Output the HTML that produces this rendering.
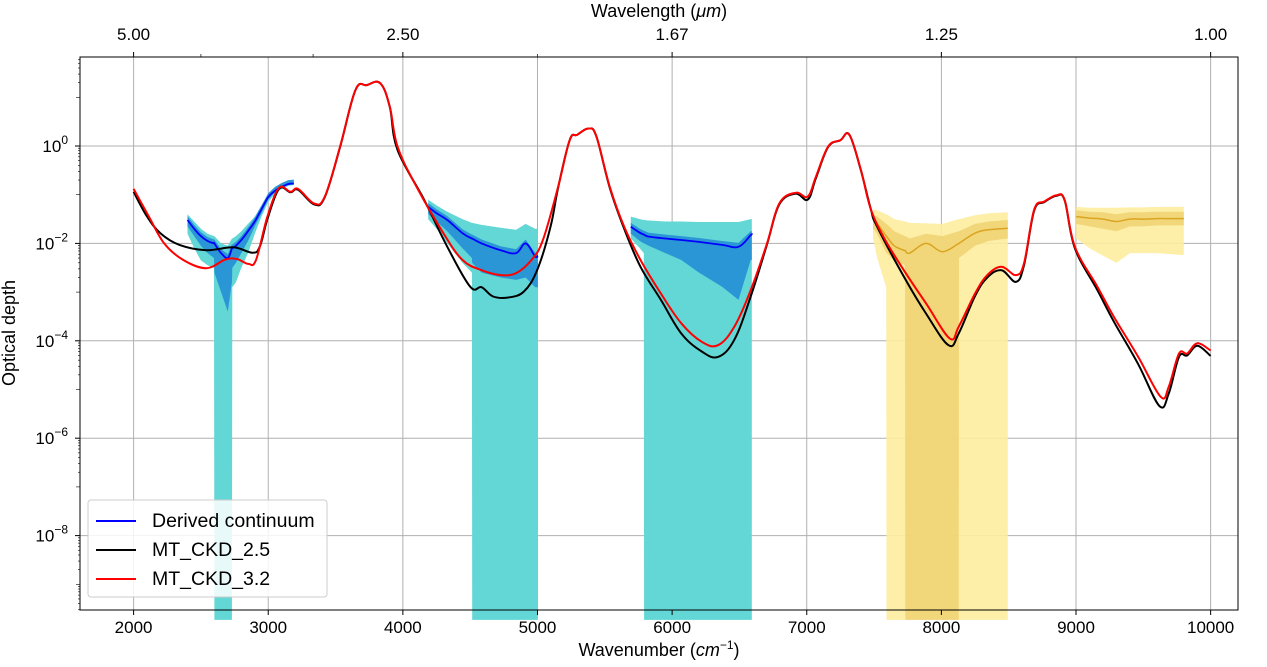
<!DOCTYPE html>
<html><head><meta charset="utf-8"><style>
body{margin:0;background:#fff;}
svg text{font-family:"Liberation Sans","DejaVu Sans",sans-serif;fill:#000;}
</style></head><body>
<svg id="chart" width="1267" height="662" xmlns="http://www.w3.org/2000/svg">
<g id="grid"></g>
<g id="bands"></g>
<g id="lines"></g>
<rect x="80" y="57" width="1158" height="553" fill="none" stroke="#000" stroke-width="1"/>
<g id="axes"></g>
<text x="659" y="656" font-size="18" text-anchor="middle">Wavenumber (<tspan font-style="italic">cm</tspan><tspan font-size="12" dy="-7">−1</tspan><tspan dy="7">)</tspan></text>
<text x="659" y="17" font-size="18" text-anchor="middle">Wavelength (<tspan font-style="italic">μm</tspan>)</text>
<text transform="translate(15,333) rotate(-90)" font-size="18" text-anchor="middle">Optical depth</text>
<g>
<rect x="88" y="500" width="239" height="97" rx="3" fill="#fff" fill-opacity="0.85" stroke="#ccc"/>
<line x1="96" y1="521" x2="136" y2="521" stroke="#0000ff" stroke-width="2"/>
<text x="152" y="527" font-size="19.5">Derived continuum</text>
<line x1="96" y1="550" x2="136" y2="550" stroke="#000" stroke-width="2"/>
<text x="152" y="556" font-size="19.5">MT_CKD_2.5</text>
<line x1="96" y1="579" x2="136" y2="579" stroke="#ff0000" stroke-width="2"/>
<text x="152" y="585" font-size="19.5">MT_CKD_3.2</text>
</g>
</svg>
<script>
// ---- data (log10 optical depth) ----
const redWn=[2000,2114,2227,2369,2540,2682,2767,2852,2909,2994,3080,3165,3222,3341,3420,3534,3648,3733,3832,3903,3960,4102,4301,4443,4585,4727,4841,4955,5040,5153,5239,5295,5381,5438,5537,5644,5765,5917,6068,6220,6341,6462,6584,6705,6796,6917,7008,7068,7159,7250,7317,7402,7477,7583,7735,7886,8062,8129,8250,8341,8447,8553,8614,8689,8765,8856,8916,8992,9159,9280,9462,9629,9689,9765,9826,9901,10000];
const redLog=[-0.88,-1.45,-2.0,-2.34,-2.51,-2.33,-2.32,-2.42,-2.34,-1.45,-0.86,-0.94,-0.88,-1.18,-1.04,-0.01,1.15,1.25,1.29,0.81,-0.01,-0.84,-1.79,-2.34,-2.55,-2.65,-2.61,-2.34,-1.93,-0.84,0.12,0.23,0.36,0.19,-0.84,-1.66,-2.34,-3.03,-3.64,-4.02,-4.09,-3.71,-2.96,-2.0,-1.18,-0.96,-1.04,-0.63,-0.01,0.12,0.23,-0.49,-1.31,-1.93,-2.61,-3.23,-3.95,-3.71,-3.03,-2.65,-2.48,-2.65,-2.41,-1.31,-1.14,-1.01,-1.11,-2.07,-2.89,-3.5,-4.33,-5.15,-4.94,-4.26,-4.26,-4.05,-4.2];
const blackWn=[2000,2100,2199,2341,2540,2739,2881,2937,2994,3080,3165,3222,3341,3420,3534,3648,3733,3832,3903,3960,4159,4330,4500,4585,4670,4784,4898,4997,5097,5153,5239,5295,5381,5438,5537,5644,5765,5917,6068,6220,6341,6462,6584,6705,6796,6917,7008,7068,7159,7250,7317,7402,7477,7523,7735,7886,8053,8129,8250,8341,8447,8553,8614,8689,8765,8856,8916,8992,9159,9280,9462,9620,9689,9765,9826,9901,10000];
const blackLog=[-0.94,-1.45,-1.79,-2.03,-2.14,-2.08,-2.19,-2.07,-1.5,-0.88,-0.95,-0.9,-1.2,-1.05,-0.02,1.15,1.25,1.29,0.8,-0.08,-1.11,-2.07,-2.89,-2.9,-3.09,-3.11,-2.99,-2.55,-1.66,-0.86,0.12,0.23,0.36,0.19,-0.86,-1.7,-2.48,-3.16,-3.85,-4.22,-4.33,-3.98,-3.09,-2.02,-1.2,-0.98,-1.1,-0.66,-0.02,0.12,0.23,-0.5,-1.31,-1.66,-2.75,-3.44,-4.09,-3.85,-3.08,-2.7,-2.55,-2.79,-2.45,-1.33,-1.15,-1.02,-1.12,-2.1,-2.96,-3.6,-4.48,-5.34,-5.08,-4.33,-4.3,-4.1,-4.31];
// derived continuum bands
const b1Wn=[2400,2450,2500,2550,2597,2600,2650,2700,2730,2733,2760,2800,2850,2900,2950,3000,3050,3100,3150,3190];
const b1Mid=[-1.52,-1.7,-1.85,-1.95,-2.0,-2.0,-2.2,-2.3,-2.1,-2.1,-2.05,-1.93,-1.75,-1.55,-1.3,-1.05,-0.92,-0.84,-0.78,-0.77];
const b1LightHi=[-1.4,-1.55,-1.7,-1.8,-1.85,-1.85,-2.0,-2.05,-1.9,-1.9,-1.85,-1.75,-1.6,-1.45,-1.22,-0.99,-0.87,-0.8,-0.75,-0.74];
const b1LightLo=[-1.8,-2.1,-2.35,-2.45,-2.5,-10,-10,-10,-10,-2.9,-2.8,-2.5,-2.2,-1.8,-1.45,-1.15,-0.98,-0.88,-0.82,-0.8];
const b1DarkLo=[-1.65,-1.85,-2.05,-2.2,-2.3,-2.6,-3.0,-3.4,-2.8,-2.5,-2.4,-2.2,-1.95,-1.65,-1.38,-1.1,-0.95,-0.86,-0.8,-0.79];
const b2Wn=[4188,4250,4330,4443,4513,4515,4585,4727,4841,4912,4983,5003];
const b2Mid=[-1.25,-1.38,-1.52,-1.79,-1.9,-1.9,-2.0,-2.14,-2.2,-2.0,-2.27,-2.25];
const b2LightHi=[-1.1,-1.22,-1.35,-1.5,-1.58,-1.58,-1.62,-1.68,-1.72,-1.6,-1.7,-1.7];
const b2LightLo=[-1.5,-1.7,-2.0,-2.4,-2.6,-10,-10,-10,-10,-10,-10,-10];
const b2DarkLo=[-1.4,-1.55,-1.75,-2.1,-2.3,-2.4,-2.6,-2.7,-2.75,-2.7,-2.9,-2.9];
const b3Wn=[5693,5760,5790,5792,5826,5950,6068,6200,6371,6493,6584,6592];
const b3Mid=[-1.66,-1.78,-1.82,-1.82,-1.86,-1.9,-1.93,-1.97,-2.03,-2.07,-1.83,-1.83];
const b3LightHi=[-1.45,-1.5,-1.52,-1.52,-1.53,-1.55,-1.55,-1.56,-1.56,-1.56,-1.5,-1.5];
const b3LightLo=[-1.9,-2.1,-2.2,-10,-10,-10,-10,-10,-10,-10,-10,-10];
const b3DarkLo=[-1.8,-1.95,-2.0,-2.0,-2.05,-2.2,-2.34,-2.6,-2.89,-3.16,-2.34,-2.34];
// yellow bands (other data)
const y1Wn=[7492,7523,7590,7592,7650,7730,7732,7765,7886,8008,8129,8131,8250,8350,8493];
const y1Mid=[-1.5,-1.59,-1.85,-1.85,-2.05,-2.15,-2.15,-2.2,-2.0,-2.17,-2.0,-2.0,-1.79,-1.72,-1.69];
const y1LightHi=[-1.3,-1.32,-1.4,-1.4,-1.5,-1.55,-1.55,-1.58,-1.59,-1.6,-1.5,-1.5,-1.42,-1.38,-1.36];
const y1LightLo=[-1.9,-2.3,-2.9,-10,-10,-10,-10,-10,-10,-10,-10,-10,-10,-10,-10];
const y1DarkHi=[-1.4,-1.45,-1.6,-1.6,-1.75,-1.85,-1.85,-1.9,-1.8,-1.85,-1.75,-1.75,-1.6,-1.55,-1.52];
const y1DarkLo=[-1.7,-1.8,-2.2,-2.2,-2.35,-2.45,-10,-10,-10,-10,-10,-2.3,-2.05,-1.95,-1.9];
const y2Wn=[9001,9100,9200,9300,9400,9500,9600,9700,9801];
const y2Mid=[-1.45,-1.48,-1.5,-1.55,-1.5,-1.5,-1.49,-1.49,-1.49];
const y2LightHi=[-1.25,-1.27,-1.27,-1.27,-1.26,-1.26,-1.25,-1.25,-1.25];
const y2LightLo=[-1.9,-2.1,-2.25,-2.4,-2.2,-2.2,-2.2,-2.22,-2.24];
const y2DarkHi=[-1.32,-1.35,-1.36,-1.4,-1.36,-1.36,-1.35,-1.35,-1.35];
const y2DarkLo=[-1.6,-1.65,-1.7,-1.75,-1.65,-1.65,-1.63,-1.63,-1.63];
// ticks
const xTicks=[2000,3000,4000,5000,6000,7000,8000,9000,10000];
const yTicks=[0,-2,-4,-6,-8];
const topLabels=["5.00","2.50","1.67","1.25","1.00"];
const topMajorWl=[5.0,2.5,1.6667,1.25,1.0];
const topMinorWl=[4,3,2];
// ---- axis functions ----
const LOGMIN=-9.53, LOGMAX=1.83;
function X(w){return 133.6+(w-2000)*0.13463;}
function Y(l){l=Math.max(LOGMIN-0.2,l);return 146-l*48.7;}
const NS="http://www.w3.org/2000/svg";
function mk(tag,attrs,parent){const e=document.createElementNS(NS,tag);for(const k in attrs)e.setAttribute(k,attrs[k]);parent.appendChild(e);return e;}
const grid=document.getElementById('grid'),axes=document.getElementById('axes'),bands=document.getElementById('bands'),lines=document.getElementById('lines');
xTicks.forEach(t=>{
 const g=mk('line',{x1:X(t),x2:X(t),y1:57,y2:610,stroke:'#b0b0b0','stroke-width':1},grid);
 
 
 const tk=mk('line',{x1:X(t),x2:X(t),y1:610,y2:615,stroke:'#000'},axes);
 
 
 const tx=mk('text',{x:X(t),y:633,'font-size':17,'text-anchor':'middle'},axes);
 tx.textContent=t;
 
 
});
yTicks.forEach(t=>{
 const g=mk('line',{x1:80,x2:1238,y1:Y(t),y2:Y(t),stroke:'#b0b0b0','stroke-width':1},grid);
 
 
 const tk=mk('line',{x1:75,x2:80,y1:Y(t),y2:Y(t),stroke:'#000'},axes);
 
 
 const tx=mk('text',{x:68,y:Y(t)+6,'font-size':17,'text-anchor':'end'},axes);
 
 
 tx.innerHTML='10<tspan font-size="12" dy="-8">'+(t<0?'−'+(-t):t)+'</tspan>';
});
for(let d=-10;d<=1;d++){ if(yTicks.includes(d))continue;
 for(let m=1;m<10;m++){const l=d+Math.log10(m);if(l<LOGMIN||l>LOGMAX)continue;
  const mt=mk('line',{x1:m==1?76:78,x2:80,y1:Y(l),y2:Y(l),stroke:'#000','stroke-width':0.6},axes);
  
  }}
topMajorWl.forEach((wl,i)=>{const w=10000/wl;
 const tk=mk('line',{x1:X(w),x2:X(w),y1:52,y2:57,stroke:'#000'},axes);
 
 
 const tx=mk('text',{x:X(w),y:40,'font-size':17,'text-anchor':'middle'},axes);
 tx.textContent=topLabels[i];
 
 
});
topMinorWl.forEach(wl=>{const w=10000/wl;
 const tk=mk('line',{x1:X(w),x2:X(w),y1:54,y2:57,stroke:'#000','stroke-width':0.7},axes);
 
 
});
// smooth path through points (Catmull-Rom)
function smooth(pts){
 let d='M'+pts[0][0].toFixed(1)+','+pts[0][1].toFixed(1);
 for(let i=0;i<pts.length-1;i++){
  const p0=pts[Math.max(0,i-1)],p1=pts[i],p2=pts[i+1],p3=pts[Math.min(pts.length-1,i+2)];
  const t=0.18;
  const c1=[p1[0]+(p2[0]-p0[0])*t,p1[1]+(p2[1]-p0[1])*t];
  const c2=[p2[0]-(p3[0]-p1[0])*t,p2[1]-(p3[1]-p1[1])*t];
  d+='C'+c1[0].toFixed(1)+','+c1[1].toFixed(1)+' '+c2[0].toFixed(1)+','+c2[1].toFixed(1)+' '+p2[0].toFixed(1)+','+p2[1].toFixed(1);
 }
 return d;
}
function area(wn,hi,lo,fill,op,name){
 let d='M'+wn.map((w,i)=>X(w).toFixed(1)+','+Y(hi[i]).toFixed(1)).join('L');
 for(let i=wn.length-1;i>=0;i--)d+='L'+X(wn[i]).toFixed(1)+','+Y(lo[i]).toFixed(1);
 const p=mk('path',{d:d+'Z',fill:fill,'fill-opacity':op},bands);
 
 
}
function line(wn,v,stroke,w,name,parent){
 const pts=wn.map((x,i)=>[X(x),Y(v[i])]);
 const p=mk('path',{d:smooth(pts),fill:'none',stroke:stroke,'stroke-width':w,'stroke-linejoin':'round'},parent||lines);
 
 
}
[[b1Wn,b1Mid,b1LightHi,b1LightLo,b1DarkLo],[b2Wn,b2Mid,b2LightHi,b2LightLo,b2DarkLo],[b3Wn,b3Mid,b3LightHi,b3LightLo,b3DarkLo]].forEach(b=>{
 area(b[0],b[2],b[3],'#63d6d6',1,'continuum-band-wide');
 area(b[0],b[1].map(v=>v+0.08),b[4],'#2a96d6',1,'continuum-band-narrow');
 line(b[0],b[1],'#0000ff',1.8,'derived-continuum-line',bands);
});
[[y1Wn,y1Mid,y1LightHi,y1LightLo,y1DarkHi,y1DarkLo],[y2Wn,y2Mid,y2LightHi,y2LightLo,y2DarkHi,y2DarkLo]].forEach(b=>{
 area(b[0],b[2],b[3],'#fdec9e',0.9,'reference-band-wide');
 area(b[0],b[4],b[5],'#f0d272',0.85,'reference-band-narrow');
 line(b[0],b[1],'#daa520',1.5,'reference-continuum-line',bands);
});
line(blackWn,blackLog,'#000',2,'mt-ckd-2-5-line');
line(redWn,redLog,'#ff0000',2,'mt-ckd-3-2-line');
</script>
</body></html>
